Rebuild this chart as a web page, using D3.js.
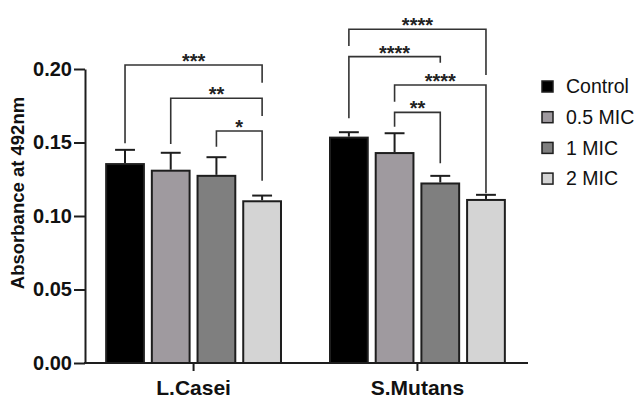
<!DOCTYPE html>
<html>
<head>
<meta charset="utf-8">
<script src="https://cdn.jsdelivr.net/npm/d3@7"></script>
<style>
html,body{margin:0;padding:0;background:#fff;}
svg{display:block;font-family:"Liberation Sans",Arial,Helvetica,sans-serif;}
</style>
</head>
<body>
<svg id="chart" width="638" height="398"></svg>
<script>
// ---- data ----
const groups = ["L.Casei", "S.Mutans"];
const series = ["Control", "0.5 MIC", "1 MIC", "2 MIC"];
const colors = ["#000000", "#9f9a9f", "#7f7f7f", "#d4d4d4"];
const meanLCasei = [0.136, 0.1315, 0.128, 0.1107];
const errLCasei  = [0.009, 0.0115, 0.012, 0.0032];
const meanSMutans = [0.154, 0.1435, 0.1228, 0.1116];
const errSMutans  = [0.003, 0.0128, 0.0045, 0.0028];
const yTicks = [0.00, 0.05, 0.10, 0.15, 0.20];
// significance brackets: group, from series, to series, level, left end, right end, label
const sigGroup = ["L.Casei", "L.Casei", "L.Casei", "S.Mutans", "S.Mutans", "S.Mutans", "S.Mutans"];
const sigFrom  = ["Control", "0.5 MIC", "1 MIC", "Control", "Control", "0.5 MIC", "0.5 MIC"];
const sigTo    = ["2 MIC", "2 MIC", "2 MIC", "2 MIC", "1 MIC", "2 MIC", "1 MIC"];
const sigLevel = [0.2027, 0.1801, 0.1578, 0.2270, 0.2084, 0.1891, 0.1705];
const sigLeftEnd  = [0.1495, 0.1490, 0.1471, 0.2156, 0.1665, 0.1778, 0.1607];
const sigRightEnd = [0.1907, 0.1680, 0.1240, 0.1959, 0.2043, 0.1154, 0.1359];
const sigLabel = ["***", "**", "*", "****", "****", "****", "**"];

const means = {"L.Casei": meanLCasei, "S.Mutans": meanSMutans};
const errs = {"L.Casei": errLCasei, "S.Mutans": errSMutans};

// ---- scales ----
const svg = d3.select("#chart");
const x0 = d3.scaleBand().domain(groups).range([85, 526]).paddingInner(0.21).paddingOuter(0.09);
const x1 = d3.scaleBand().domain(series).range([0, x0.bandwidth()]).paddingInner(0.13).paddingOuter(0);
const y = d3.scaleLinear().domain([0, 0.2]).range([363, 69]);
const color = d3.scaleOrdinal().domain(series).range(colors);

const ink = "#1e1e1e";

// ---- bars ----
const rows = [];
groups.forEach(g => series.forEach((s, i) => rows.push({g, s, v: means[g][i], e: errs[g][i]})));

const gBars = svg.append("g");
gBars.selectAll("line.err").data(rows).join("line")
  .attr("x1", d => x0(d.g) + x1(d.s) + x1.bandwidth() / 2)
  .attr("x2", d => x0(d.g) + x1(d.s) + x1.bandwidth() / 2)
  .attr("y1", d => y(d.v)).attr("y2", d => y(d.v + d.e))
  .attr("stroke", ink).attr("stroke-width", 2);
gBars.selectAll("line.cap").data(rows).join("line")
  .attr("x1", d => x0(d.g) + x1(d.s) + x1.bandwidth() / 4)
  .attr("x2", d => x0(d.g) + x1(d.s) + x1.bandwidth() * 3 / 4)
  .attr("y1", d => y(d.v + d.e)).attr("y2", d => y(d.v + d.e))
  .attr("stroke", ink).attr("stroke-width", 2);
gBars.selectAll("rect").data(rows).join("rect")
  .attr("x", d => x0(d.g) + x1(d.s) + 1)
  .attr("y", d => y(d.v) + 1)
  .attr("width", x1.bandwidth() - 2)
  .attr("height", d => y(0) - y(d.v) - 1)
  .attr("fill", d => color(d.s))
  .attr("stroke", ink).attr("stroke-width", 2);

// ---- axes ----
const yAxis = d3.axisLeft(y).tickValues(yTicks).tickFormat(d3.format(".2f")).tickSize(11).tickSizeOuter(0).tickPadding(2);
const gy = svg.append("g").attr("transform", "translate(85,0)").call(yAxis);
gy.select(".domain").attr("stroke", ink).attr("stroke-width", 2);
gy.selectAll(".tick line").attr("stroke", ink).attr("stroke-width", 2);
gy.selectAll(".tick text").attr("font-size", 20).attr("font-weight", "bold").attr("fill", "#111")
  .attr("font-family", "Liberation Sans, Arial, sans-serif");

const xAxis = d3.axisBottom(x0).tickSize(8).tickSizeOuter(0).tickPadding(9);
const gx = svg.append("g").attr("transform", "translate(0,363)").call(xAxis);
gx.select(".domain").remove();
gx.append("line").attr("x1", 84).attr("x2", 528).attr("y1", 0).attr("y2", 0).attr("stroke", ink).attr("stroke-width", 2);
gx.selectAll(".tick line").attr("stroke", ink).attr("stroke-width", 2);
gx.selectAll(".tick text").attr("font-size", 21).attr("font-weight", "bold").attr("fill", "#111")
  .attr("font-family", "Liberation Sans, Arial, sans-serif");

// y label
svg.append("text")
  .attr("transform", "translate(24,193) rotate(-90)")
  .attr("text-anchor", "middle")
  .attr("font-size", 18.5).attr("font-weight", "bold").attr("fill", "#111")
  .text("Absorbance at 492nm");

// ---- significance brackets ----
const cx = (g, s) => x0(g) + x1(s) + x1.bandwidth() / 2;
const gSig = svg.append("g");
sigLabel.forEach((lab, i) => {
  const xa = cx(sigGroup[i], sigFrom[i]);
  const xb = cx(sigGroup[i], sigTo[i]);
  const yl = y(sigLevel[i]);
  gSig.append("path")
    .attr("d", `M${xa},${y(sigLeftEnd[i])}V${yl}H${xb}V${y(sigRightEnd[i])}`)
    .attr("fill", "none").attr("stroke", "#333").attr("stroke-width", 1.6);
  gSig.append("text")
    .attr("x", (xa + xb) / 2).attr("y", yl + 3)
    .attr("text-anchor", "middle")
    .attr("font-size", 20).attr("font-weight", "bold").attr("fill", "#222")
    .text(lab);
});

// ---- legend ----
const legend = svg.append("g").attr("transform", "translate(541,80)");
const li = legend.selectAll("g").data(series).join("g")
  .attr("transform", (d, i) => `translate(0,${i * 30.7})`);
li.append("rect").attr("x", 1).attr("y", 1).attr("width", 11).attr("height", 11)
  .attr("fill", d => color(d)).attr("stroke", ink).attr("stroke-width", 1.5);
li.append("text").attr("x", 25).attr("y", 6.5).attr("dy", "0.35em")
  .attr("font-size", 19.5).attr("fill", "#111")
  .text(d => d);
</script>
</body>
</html>
